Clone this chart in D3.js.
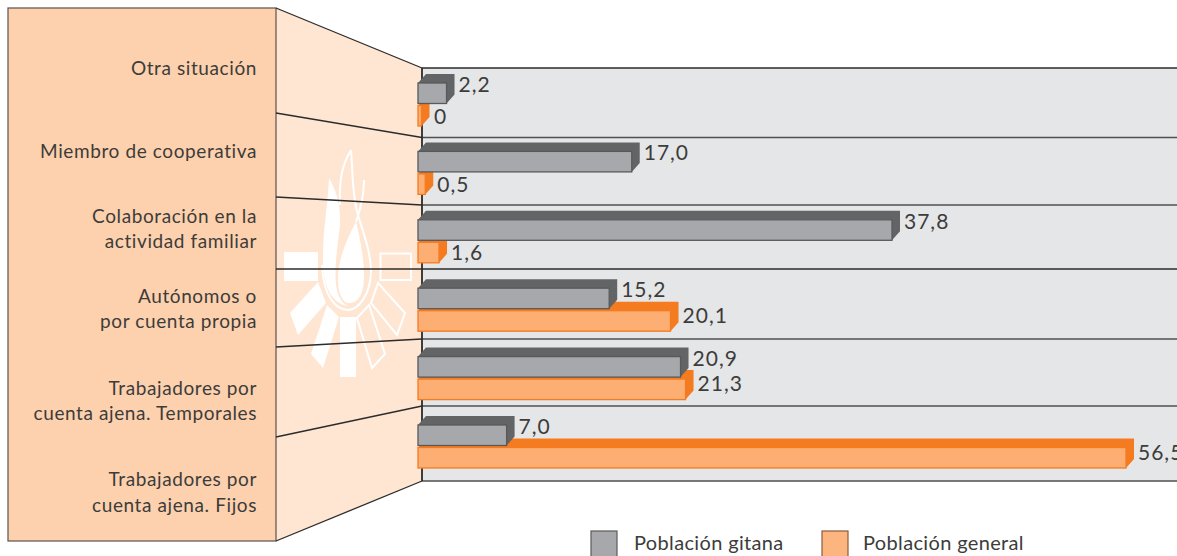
<!DOCTYPE html>
<html><head><meta charset="utf-8">
<script src="https://cdn.jsdelivr.net/npm/d3@7"></script>
<style>html,body{margin:0;background:#fff}svg{display:block}text{font-family:Lato,sans-serif;fill:#3c3c3b}</style>
</head><body><svg id="c" width="1177" height="556"></svg>
<script>
const categories=["Otra situación","Miembro de cooperativa","Colaboración en la|actividad familiar","Autónomos o|por cuenta propia","Trabajadores por|cuenta ajena. Temporales","Trabajadores por|cuenta ajena. Fijos"];
const gitana=[2.2,17.0,37.8,15.2,20.9,7.0];
const general=[0,0.5,1.6,20.1,21.3,56.5];
const gitanaLabels=["2,2","17,0","37,8","15,2","20,9","7,0"];
const generalLabels=["0","0,5","1,6","20,1","21,3","56,5"];
const legendNames=["Población gitana","Población general"];
const plotBreaks=[68,137.5,205,269,339,406,481];
const panelBreaks=[8,113,197,269,347,437,541];
const labelY=[[68],[151],[216,241],[296,321],[388,413],[479,505]];

const svg=d3.select("#c");
const x=d3.scaleLinear().domain([0,56.5]).range([419,1126]);
const y=d3.scaleBand().domain(d3.range(6)).range([74,484.4]).padding(0);
const bw=20.5,dx=8,dy=9,gap=22.5;
const line=d3.line();

// fan and panel
svg.append("path").attr("d",line([[276,8],[422,68],[422,481],[276,541]])+"Z").attr("fill","#fee6d3");
svg.append("rect").attr("x",422).attr("y",68).attr("width",760).attr("height",413).attr("fill","#e5e6e8");
svg.append("rect").attr("x",8).attr("y",8).attr("width",268).attr("height",533).attr("fill","#fdd1ad").attr("stroke","#5a5250").attr("stroke-width",1.2);

// logo
const logo=svg.append("g").attr("fill","#fff");
const logoSolid=[[[284,252],[318,252],[318,281],[284,281]],[[318,282],[326,303],[298,335],[290,313]],[[327,305],[339,317],[323,368],[311,354]],[[340,317],[356,317],[356,377],[340,377]]];
const logoOpen=[[[380.5,253.5],[411,253.5],[411,280],[380.5,280]],[[357,318],[369,305],[385,354],[372,368]],[[371,303],[378,283],[405,313],[397,335]]];
logoSolid.forEach(p=>logo.append("path").attr("d",line(p)+"Z"));
logoOpen.forEach(p=>logo.append("path").attr("d",line(p)+"Z").attr("fill","none").attr("stroke","#fff").attr("stroke-width",2));
logo.append("path").attr("d","M329 178C336 190 341 205 340 225C338 245 334 265 336 285C338 298 343 304 348 306C334 304 324 290 323 265C322 235 328 205 329 178Z");
logo.append("path").attr("d","M356 222C346 240 337 262 338 282C339 296 343 303 349 303C358 303 364 295 364 275C364 258 360 238 356 222Z");
[ "M351 150C342 165 339 180 340 205","M351 150C353 175 352 195 358 215C364 235 370 250 371 270C371 295 358 310 348 310C336 310 323 296 322 265","M364 180C364 190 362 205 356 222"].forEach(d=>logo.append("path").attr("d",d).attr("fill","none").attr("stroke","#fff").attr("stroke-width",2));

// plot bands and lines
plotBreaks.forEach((b,i)=>{
  svg.append("line").attr("x1",422).attr("x2",1177).attr("y1",b).attr("y2",b).attr("stroke",i===0||i===3?"#2b2b2b":"#4f4f4f").attr("stroke-width",1.5);
  svg.append("line").attr("x1",276).attr("x2",422).attr("y1",panelBreaks[i]).attr("y2",b).attr("stroke","#2b2b2b").attr("stroke-width",1.3);
});
svg.append("line").attr("x1",422).attr("x2",422).attr("y1",68).attr("y2",481).attr("stroke","#2b2b2b").attr("stroke-width",1.8);

// bars: orange first, grey over it so it hides the orange top where longer
function bar(v,yTop,front,top,edge){
  const x0=x(0)-1,x1=Math.max(x(v),x0+3.5);
  const g=svg.append("g");
  g.append("path").attr("d",line([[x0,yTop],[x0+dx,yTop-dy],[x1+dx,yTop-dy],[x1+dx,yTop+bw-dy],[x1,yTop+bw],[x1,yTop]])+"Z").attr("fill",top);
  g.append("rect").attr("x",x0).attr("y",yTop).attr("width",x1-x0).attr("height",bw).attr("fill",front).attr("stroke",edge).attr("stroke-width",1.3);
}
categories.forEach((c,i)=>{
  const t=y(i)+9;
  bar(general[i],t+gap,"#fdae72","#f47b20","#f47b20");
  bar(gitana[i],t,"#a7a8ab","#636466","#58595b");
  const lx=v=>Math.max(x(v),x(0)+3)+12;
  svg.append("text").attr("x",lx(gitana[i])).attr("y",t+9).attr("font-size",21).attr("letter-spacing",1).text(gitanaLabels[i]);
  const small=general[i]<5;
  svg.append("text").attr("x",lx(general[i])).attr("y",t+gap+(small?18:12)).attr("font-size",21).attr("letter-spacing",1).text(generalLabels[i]);
  c.split("|").forEach((s,j)=>svg.append("text").attr("x",257).attr("y",labelY[i][j]+6.5).attr("text-anchor","end").attr("font-size",19).attr("letter-spacing",0.6).text(s));
});

// legend
[[591,"#a7a8ab","#5a5a5a",634],[822,"#fdb57f","#8a5a3a",863]].forEach((l,i)=>{
  svg.append("rect").attr("x",l[0]).attr("y",531).attr("width",26).attr("height",30).attr("fill",l[1]).attr("stroke",l[2]).attr("stroke-width",1.2);
  svg.append("text").attr("x",l[3]).attr("y",550).attr("font-size",20).attr("letter-spacing",0.35).text(legendNames[i]);
});
</script></body></html>
